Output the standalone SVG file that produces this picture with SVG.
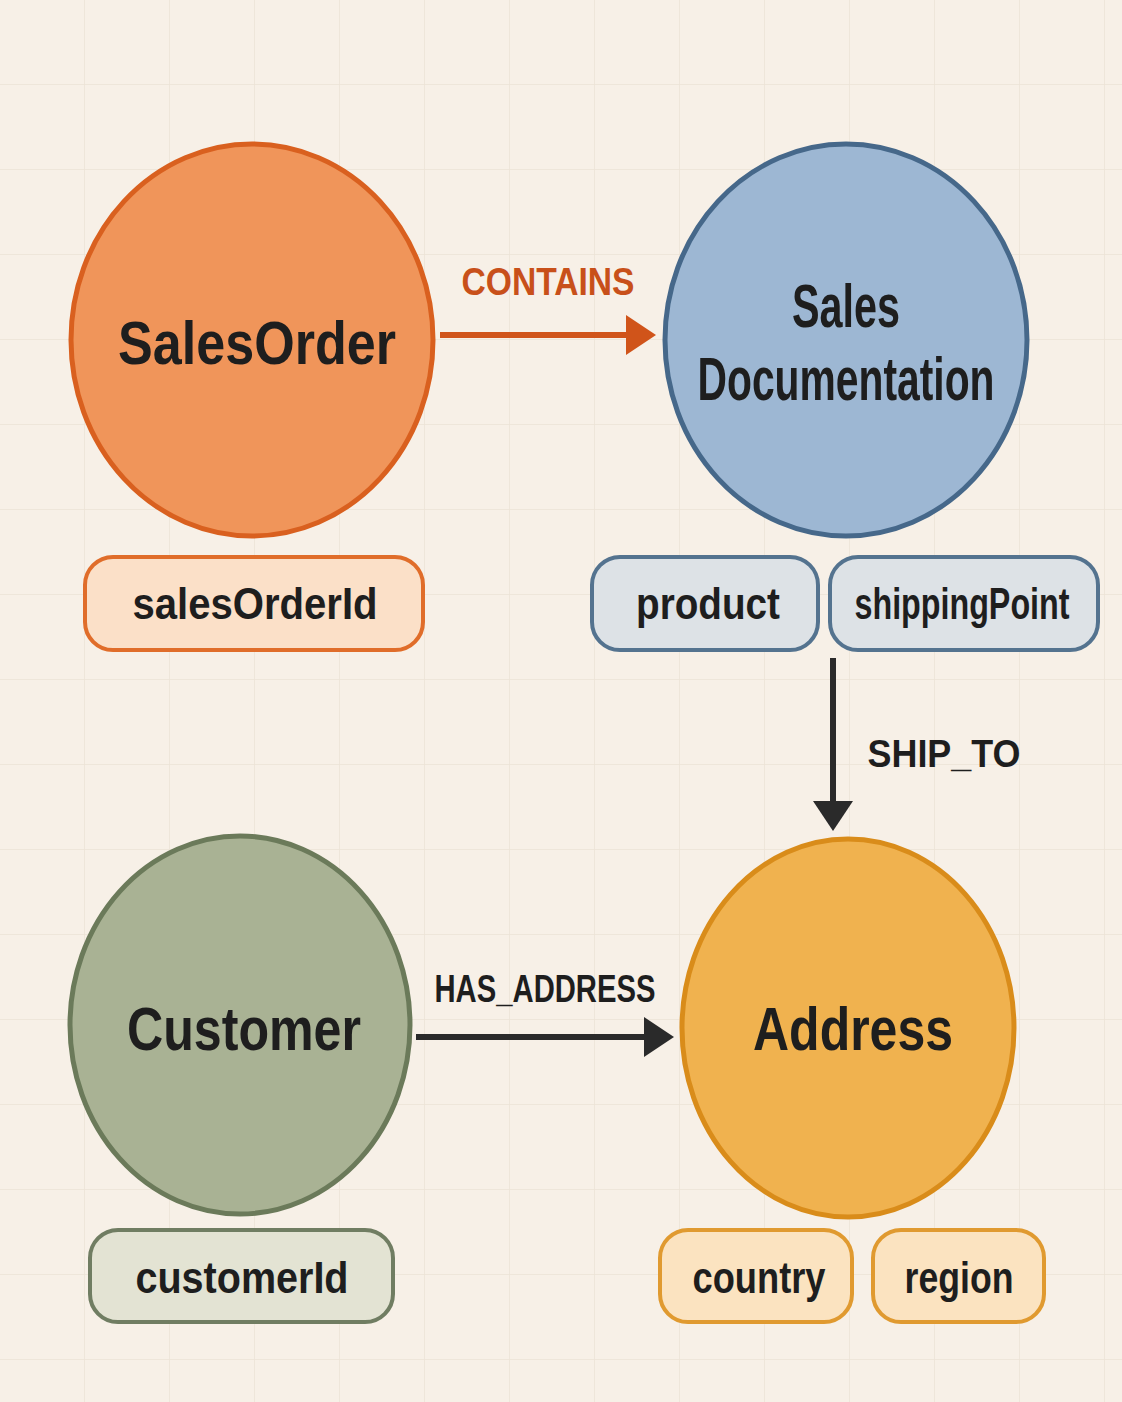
<svg xmlns="http://www.w3.org/2000/svg" width="1122" height="1402" viewBox="0 0 1122 1402">
<style>
text{font-family:"Liberation Sans","DejaVu Sans",sans-serif;font-weight:bold;fill:#1e1e1e;text-anchor:middle}
.big{font-size:62px}
.pill{font-size:44px}
.lbl{font-size:38px}
</style>
<defs>
<pattern id="grid" width="85" height="85" patternUnits="userSpaceOnUse">
<path d="M85 0V85H0" fill="none" stroke="#ece3d6" stroke-width="1.5"/>
</pattern>
</defs>
<rect width="1122" height="1402" fill="#f7f0e7"/>
<rect width="1122" height="1402" fill="url(#grid)"/>
<g id="connectors">
<line x1="440" y1="335" x2="630" y2="335" stroke="#d0541a" stroke-width="6"/>
<path d="M626 315L656 335L626 355z" fill="#d0541a"/>
<text x="548" y="295" class="lbl" style="fill:#c8501a" textLength="173" lengthAdjust="spacingAndGlyphs">CONTAINS</text>
<line x1="833" y1="658" x2="833" y2="805" stroke="#2a2a2a" stroke-width="6"/>
<path d="M813 801L833 831L853 801z" fill="#2a2a2a"/>
<text x="944" y="767" class="lbl" textLength="153" lengthAdjust="spacingAndGlyphs">SHIP_TO</text>
<line x1="416" y1="1037" x2="648" y2="1037" stroke="#2a2a2a" stroke-width="6"/>
<path d="M644 1017L674 1037L644 1057z" fill="#2a2a2a"/>
<text x="545" y="1002" class="lbl" textLength="221" lengthAdjust="spacingAndGlyphs">HAS_ADDRESS</text>
</g>
<g id="SalesOrder">
<ellipse cx="252" cy="340" rx="181" ry="196" fill="#f0955a" stroke="#d9601f" stroke-width="5"/>
<text x="257" y="364" class="big" textLength="278" lengthAdjust="spacingAndGlyphs">SalesOrder</text>
</g>
<g id="SalesDocumentation">
<ellipse cx="846" cy="340" rx="181" ry="196" fill="#9db7d3" stroke="#46688a" stroke-width="5"/>
<text x="846" y="327" class="big" textLength="108" lengthAdjust="spacingAndGlyphs">Sales</text>
<text x="846" y="400" class="big" textLength="297" lengthAdjust="spacingAndGlyphs">Documentation</text>
</g>
<g id="Customer">
<ellipse cx="240" cy="1025" rx="170" ry="189" fill="#a9b294" stroke="#6b7a5a" stroke-width="5"/>
<text x="244" y="1050" class="big" textLength="234" lengthAdjust="spacingAndGlyphs">Customer</text>
</g>
<g id="Address">
<ellipse cx="848" cy="1028" rx="166" ry="189" fill="#f0b24f" stroke="#d98c1a" stroke-width="5"/>
<text x="853" y="1050" class="big" textLength="200" lengthAdjust="spacingAndGlyphs">Address</text>
</g>
<g id="salesOrderId">
<rect x="85" y="557" width="338" height="93" rx="28" fill="#fbe0c8" stroke="#e06d2a" stroke-width="4"/>
<text x="255" y="619" class="pill" textLength="245" lengthAdjust="spacingAndGlyphs">salesOrderId</text>
</g>
<g id="product">
<rect x="592" y="557" width="226" height="93" rx="28" fill="#dde2e6" stroke="#54738f" stroke-width="4"/>
<text x="708" y="619" class="pill" textLength="144" lengthAdjust="spacingAndGlyphs">product</text>
</g>
<g id="shippingPoint">
<rect x="830" y="557" width="268" height="93" rx="28" fill="#dde2e6" stroke="#54738f" stroke-width="4"/>
<text x="962" y="619" class="pill" textLength="215" lengthAdjust="spacingAndGlyphs">shippingPoint</text>
</g>
<g id="customerId">
<rect x="90" y="1230" width="303" height="92" rx="28" fill="#e3e3d3" stroke="#707d62" stroke-width="4"/>
<text x="242" y="1293" class="pill" textLength="213" lengthAdjust="spacingAndGlyphs">customerId</text>
</g>
<g id="country">
<rect x="660" y="1230" width="192" height="92" rx="28" fill="#fbe3c0" stroke="#e09a30" stroke-width="4"/>
<text x="759" y="1293" class="pill" textLength="133" lengthAdjust="spacingAndGlyphs">country</text>
</g>
<g id="region">
<rect x="873" y="1230" width="171" height="92" rx="28" fill="#fbe3c0" stroke="#e09a30" stroke-width="4"/>
<text x="959" y="1293" class="pill" textLength="109" lengthAdjust="spacingAndGlyphs">region</text>
</g>
</svg>
